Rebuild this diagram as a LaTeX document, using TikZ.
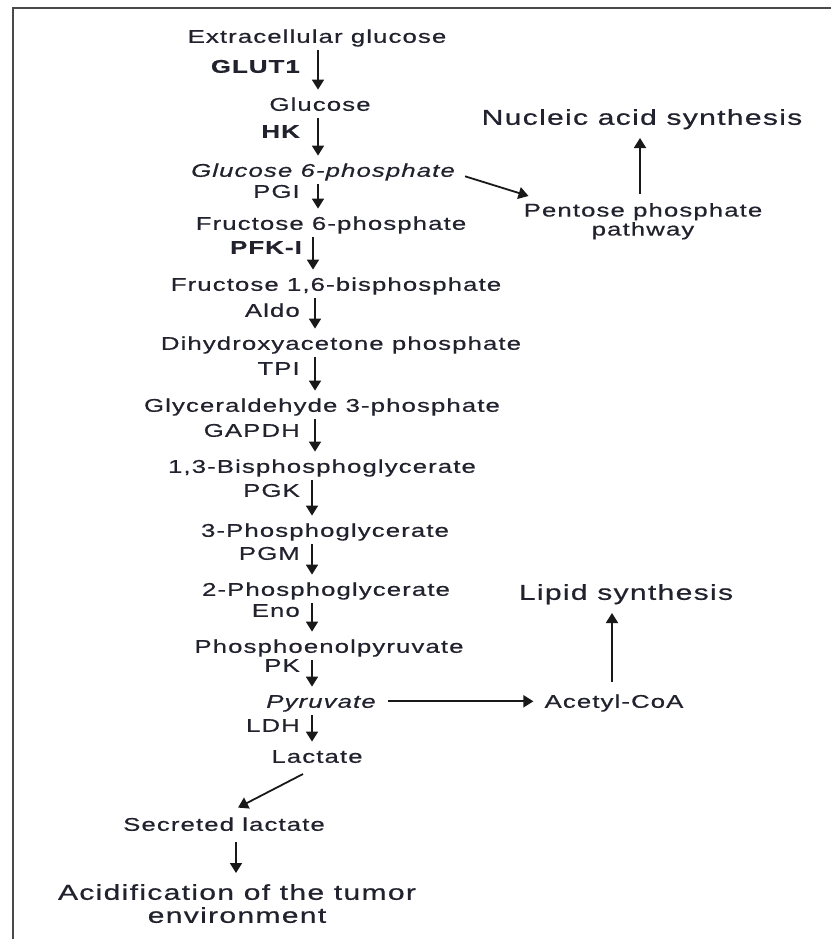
\documentclass[tikz,border=0pt]{standalone}
\usepackage{fontspec}
\setmainfont{Liberation Sans}[FakeStretch=1.4, LetterSpace=6, FakeBold=0.6]
\usetikzlibrary{arrows.meta}
\definecolor{ink}{HTML}{22222E}
\definecolor{framec}{HTML}{4A4A4A}
\tikzset{
  txt/.style={inner sep=0pt, text=ink},
  met/.style={txt, text height=13pt, text depth=0pt, anchor=south,
    font=\fontsize{18.4}{19}\selectfont},
  multi/.style={txt, anchor=north, align=center,
    font=\fontsize{18.4}{19}\selectfont},
  enz/.style={met, anchor=south east},
  enzb/.style={enz, font=\fontsize{18.4}{19}\selectfont\bfseries},
  big/.style={txt, text height=15pt, text depth=0pt, anchor=south,
    font=\fontsize{21.5}{23}\selectfont},
  bigmulti/.style={txt, anchor=north, align=center,
    font=\fontsize{21.5}{23}\selectfont},
  arr/.style={draw=black!90, line width=1.8pt,
    -{Triangle[length=10pt, width=12pt]}, shorten <=7pt, shorten >=8pt},
}
\begin{document}
\begin{tikzpicture}[x=1pt, y=-1pt]
\useasboundingbox (0,0) rectangle (831,939);
% frame (top and left edges)
\draw[framec, line width=2.6pt] (13,939) -- (13,8) -- (831,8);

% arrow columns
\coordinate (xa) at (318,0);
\coordinate (xb) at (315,0);
\coordinate (xc) at (312,0);
\coordinate (xd) at (313,0);
\coordinate (xn) at (640,0);
\coordinate (xl) at (612,0);
\coordinate (xs) at (236,0);

% metabolites of the main pathway
\node[met] (ext)  at (317,43)  {Extracellular glucose};
\node[met] (glc)  at (320,111) {Glucose};
\node[met] (g6p)  at (323,177) {\itshape Glucose 6-phosphate};
\node[met] (f6p)  at (331,230) {Fructose 6-phosphate};
\node[met] (fbp)  at (336,291) {Fructose 1,6-bisphosphate};
\node[met] (dhap) at (341,350) {Dihydroxyacetone phosphate};
\node[met] (gap)  at (322,412) {Glyceraldehyde 3-phosphate};
\node[met] (bpg)  at (322,473) {1,3-Bisphosphoglycerate};
\node[met] (pg3)  at (325,537) {3-Phosphoglycerate};
\node[met] (pg2)  at (326,596) {2-Phosphoglycerate};
\node[met] (pep)  at (329,653) {Phosphoenolpyruvate};
\node[met] (pyr)  at (321,708) {\itshape Pyruvate};
\node[met] (lac)  at (317,763) {Lactate};
\node[met] (sec)  at (224,831) {Secreted lactate};
\node[bigmulti] (acid) at (237,884)
  {Acidification of the tumor\\environment};

% side branches
\node[big] (nuc) at (642,125) {Nucleic acid synthesis};
\node[multi] (ppp) at (643,203) {Pentose phosphate\\pathway};
\node[met] (acoa) at (614,708) {Acetyl-CoA};
\node[big] (lip) at (626,600) {Lipid synthesis};

% enzymes
\node[enzb] (glut) at (300,73)  {GLUT1};
\node[enzb] (hk)   at (300,138) {HK};
\node[enz]  (pgi)  at (300,198) {PGI};
\node[enzb] (pfk)  at (302,254) {PFK-I};
\node[enz]  (aldo) at (300,317) {Aldo};
\node[enz]  (tpi)  at (300,375) {TPI};
\node[enz]  (gapdh) at (300,437) {GAPDH};
\node[enz]  (pgk)  at (300,497) {PGK};
\node[enz]  (pgm)  at (300,560) {PGM};
\node[enz]  (eno)  at (300,617) {Eno};
\node[enz]  (pk)   at (300,672) {PK};
\node[enz]  (ldh)  at (300,732) {LDH};

% glycolytic steps
\draw[arr] (ext.south -| xa) -- (glc.north -| xa);
\draw[arr] (glc.south -| xa) -- (g6p.north -| xa);
\draw[arr] (g6p.south -| xa) -- (f6p.north -| xa);
\draw[arr] (f6p.south -| xd) -- (fbp.north -| xd);
\draw[arr] (fbp.south -| xb) -- (dhap.north -| xb);
\draw[arr] (dhap.south -| xb) -- (gap.north -| xb);
\draw[arr] (gap.south -| xb) -- (bpg.north -| xb);
\draw[arr] (bpg.south -| xc) -- (pg3.north -| xc);
\draw[arr] (pg3.south -| xc) -- (pg2.north -| xc);
\draw[arr] (pg2.south -| xc) -- (pep.north -| xc);
\draw[arr] (pep.south -| xc) -- (pyr.north -| xc);
\draw[arr] (pyr.south -| xc) -- (lac.north -| xc);

% branches
\draw[arr, shorten <=0pt, shorten >=0pt]
  ([xshift=10pt, yshift=-6pt]g6p.east) -- ([xshift=5pt, yshift=7pt]ppp.north west);
\draw[arr, shorten <=9pt, shorten >=13pt] (ppp.north -| xn) -- (nuc.south -| xn);
\draw[arr, shorten <=12pt, shorten >=11pt] (pyr.east) -- (acoa.west);
\draw[arr, shorten <=13pt, shorten >=13pt] (acoa.north -| xl) -- (lip.south -| xl);
\draw[arr, shorten <=0pt, shorten >=0pt]
  ([xshift=-14pt, yshift=-11pt]lac.south) -- ([xshift=14pt, yshift=10pt]sec.north);
\draw[arr, shorten <=11pt, shorten >=11pt] (sec.south -| xs) -- (acid.north -| xs);
\end{tikzpicture}
\end{document}
